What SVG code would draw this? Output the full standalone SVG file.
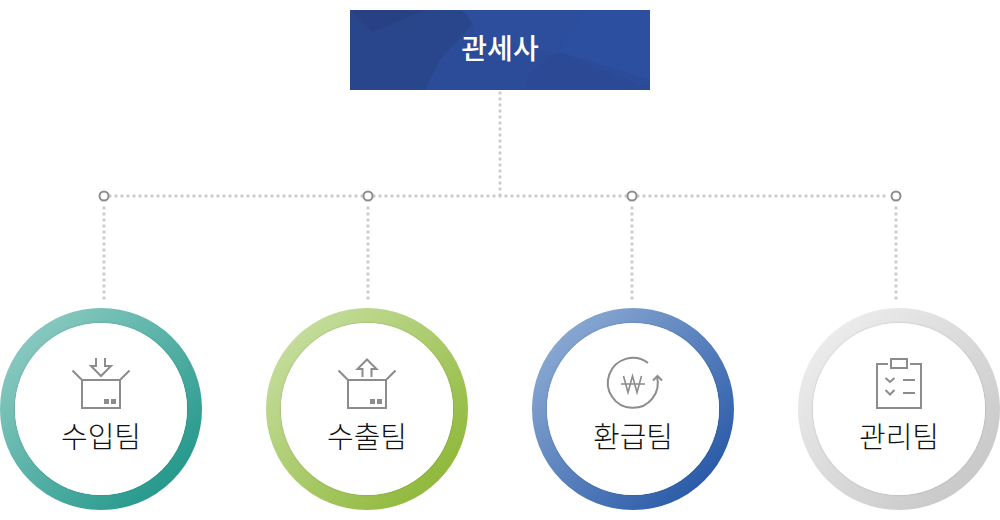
<svg xmlns="http://www.w3.org/2000/svg" width="1000" height="520" viewBox="0 0 1000 520">
<style>
.dot{fill:none;stroke:#cdcdcd;stroke-width:3.400;stroke-linecap:round;stroke-dasharray:0 6}
.junction{fill:#fff;stroke:#8c8c8c;stroke-width:2}
.ring{fill:none;stroke-width:15}
.inner{fill:#fff;filter:url(#soft)}
.icon{fill:none;stroke:#8c8c8c;stroke-width:2}
.thin{fill:none;stroke:#8c8c8c;stroke-width:1.600}
.mark{fill:#8c8c8c}
.label{font-family:"Noto Sans CJK KR","Noto Sans",sans-serif;font-size:29px;font-weight:300;fill:#111;text-anchor:middle}
.title{font-family:"Noto Sans CJK KR","Noto Sans",sans-serif;font-size:28px;font-weight:500;fill:#fff;text-anchor:middle}
</style>
<defs>
<linearGradient id="g1" x1="0.12" y1="0.12" x2="0.88" y2="0.88"><stop offset="0" stop-color="#86c8bf"/><stop offset="1" stop-color="#27998d"/></linearGradient>
<linearGradient id="g2" x1="0.12" y1="0.12" x2="0.88" y2="0.88"><stop offset="0" stop-color="#c3dc9a"/><stop offset="1" stop-color="#91b93c"/></linearGradient>
<linearGradient id="g3" x1="0.12" y1="0.12" x2="0.88" y2="0.88"><stop offset="0" stop-color="#87a6d1"/><stop offset="1" stop-color="#2c5ca9"/></linearGradient>
<linearGradient id="g4" x1="0.12" y1="0.12" x2="0.88" y2="0.88"><stop offset="0" stop-color="#ebebeb"/><stop offset="1" stop-color="#c9c9c9"/></linearGradient>
<filter id="soft" x="-5%" y="-5%" width="110%" height="110%"><feDropShadow dx="0" dy="0" stdDeviation="1.200" flood-color="#000" flood-opacity="0.2"/></filter>
</defs>

<g id="connectors">
<path class="dot" d="M500 93V196"/>
<path class="dot" d="M110 196H890"/>
<path class="dot" d="M104 208V304"/>
<path class="dot" d="M368 208V304"/>
<path class="dot" d="M632 208V304"/>
<path class="dot" d="M896 208V304"/>
<circle class="junction" cx="104" cy="196" r="4.5"/>
<circle class="junction" cx="368" cy="196" r="4.5"/>
<circle class="junction" cx="632" cy="196" r="4.5"/>
<circle class="junction" cx="896" cy="196" r="4.5"/>
</g>

<g id="node-customs">
<rect x="350" y="10" width="300" height="80" fill="#2c4b98"/>
<polygon points="350,10 460,10 475,22 440,60 425,90 350,90" fill="#29458a" opacity="0.8"/>
<polygon points="350,10 425,10 372,32" fill="#283f80" opacity="0.7"/>
<polygon points="465,10 585,10 560,55 480,40" fill="#2e4f9e" opacity="0.8"/>
<polygon points="585,10 650,10 650,80 560,52" fill="#2e50a1" opacity="0.8"/>
<polygon points="525,90 530,72 558,52 650,90" fill="#2b4993" opacity="0.7"/>
<text class="title" x="500" y="59">관세사</text>
</g>

<g id="node-import">
<circle class="ring" cx="101" cy="409" r="93.500" stroke="url(#g1)"/>
<circle class="inner" cx="101" cy="409" r="86"/>
<path class="icon" d="M82 380H120V408H82ZM82 380L72.500 370.500M120 380L129.500 370.500"/>
<path class="icon" d="M96 358V366H91L101 376L111 366H105V358"/>
<rect class="mark" x="104" y="399" width="5" height="5"/><rect class="mark" x="111" y="399" width="5" height="5"/>
<text class="label" x="101" y="448">수입팀</text>
</g>

<g id="node-export">
<circle class="ring" cx="367" cy="409" r="93.500" stroke="url(#g2)"/>
<circle class="inner" cx="367" cy="409" r="86"/>
<path class="icon" d="M348 380H386V408H348ZM348 380L338.500 370.500M386 380L395.500 370.500"/>
<path class="icon" d="M362.500 377V369H357.500L367 359.500L376.500 369H371.500V377"/>
<rect class="mark" x="370" y="399" width="5" height="5"/><rect class="mark" x="377" y="399" width="5" height="5"/>
<text class="label" x="367" y="448">수출팀</text>
</g>

<g id="node-refund">
<circle class="ring" cx="633" cy="409" r="93.500" stroke="url(#g3)"/>
<circle class="inner" cx="633" cy="409" r="86"/>
<path class="icon" d="M648 363A25 25 0 1 0 657 376.500"/>
<path class="icon" d="M653 380.500L657.500 376L662 380.500"/>
<path class="thin" d="M623.500 376L628 392.500L632.500 376L637 392.500L641.500 376M621 384H645"/>
<text class="label" x="633" y="448">환급팀</text>
</g>

<g id="node-management">
<circle class="ring" cx="899" cy="409" r="93.500" stroke="url(#g4)"/>
<circle class="inner" cx="899" cy="409" r="86"/>
<path class="icon" d="M888 364H877V408H921V364H910"/>
<rect class="icon" x="891" y="359" width="16" height="9"/>
<path class="icon" d="M885.500 378L890 382L894.500 378M885.500 390L890 394.500L894.500 390"/>
<path class="icon" d="M903 380H915M903 393H915"/>
<text class="label" x="899" y="448">관리팀</text>
</g>
</svg>
